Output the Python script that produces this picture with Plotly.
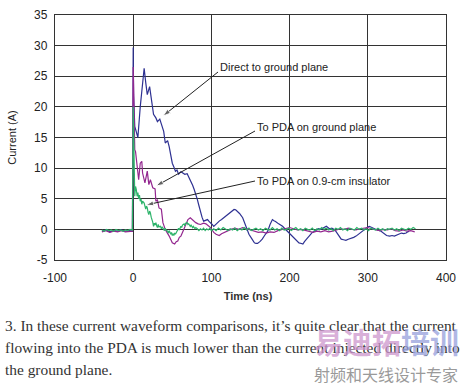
import plotly.graph_objects as go

# ---------------- data ----------------
direct_t = [-40, -35, -30, -25, -20, -15, -10, -5, -1, 0, 0.5, 2, 4, 6, 9, 12, 14, 16, 18, 21, 24, 26, 29, 31,
            34, 37, 39, 41, 44, 46, 48, 50, 52, 54, 56, 58, 61, 63, 66, 69, 71, 73, 76, 78, 80, 82, 84, 86, 88,
            90, 93, 95, 97, 99, 101, 103, 106, 110, 113, 116, 120, 123, 126, 129, 131, 133, 136, 140, 142, 144,
            146, 148, 152, 155, 157, 159, 162, 165, 168, 172, 175, 178, 180, 182, 186, 191, 194, 197, 200, 204,
            208, 212, 215, 217, 219, 221, 223, 225, 227, 229, 232, 234, 237, 240, 243, 247, 249, 251, 254, 257,
            259, 262, 264, 266, 269, 272, 275, 279, 282, 285, 288, 291, 294, 298, 300, 302, 305, 308, 312, 317,
            319, 321, 324, 328, 331, 334, 336, 339, 343, 346, 349, 351, 353]
direct_i = [-0.3, -0.1, -0.4, -0.2, -0.3, -0.1, -0.3, -0.2, -0.3, 29.7, 22, 16.8, 16, 15, 20, 24.5, 26.3, 24, 22,
            23.3, 21, 18.8, 18.2, 17.6, 18, 17, 16, 14.1, 14.5, 13.5, 12.2, 10.8, 10.2, 9.5, 9.7, 9, 9.4, 9.2, 9.0,
            9.1, 8.6, 8.1, 7.2, 6.5, 5.8, 4.9, 3.9, 2.7, 2.0, 1.35, 1.5, 1.6, 1.3, 1.1, 0.8, 0.5, 0.9, 1.35, 1.6,
            1.9, 2.3, 2.7, 3.0, 3.25, 3.2, 3.0, 2.6, 1.9, 1.2, 0.3, -0.3, -0.8, -1.6, -2.2, -2.3, -2.3, -2.0, -1.6,
            -1.0, -0.3, 0.8, 1.6, 1.4, 1.3, 0.9, 0.5, 0.1, -0.3, -0.6, -1.1, -1.7, -2.2, -2.3, -2.4, -2.0, -1.6,
            -1.4, -1.1, -0.8, -0.5, -0.3, -0.1, 0.1, 0.0, 0.2, 0.5, 0.3, 0.1, 0.2, 0.0, -0.3, -0.8, -1.2, -1.6,
            -1.7, -1.8, -1.6, -1.5, -1.3, -1.1, -0.8, -0.5, -0.1, 0.3, 0.4, 0.5, 0.3, 0.1, -0.1, -0.3, -0.5, -0.8,
            -1.0, -1.1, -1.0, -1.1, -1.0, -0.8, -0.6, -0.7, -0.6, -0.4, -0.3]

pda_gp_t = [-40, -35, -30, -25, -20, -15, -10, -5, -1, 0, 1, 2, 3, 5, 7, 9, 11, 12, 15, 18, 20, 22, 25, 28, 29,
            31, 33, 36, 38, 41, 43, 46, 50, 53, 55, 57, 59, 61, 63, 66, 68, 70, 73, 76, 80, 83, 86, 90, 93, 96,
            99, 101, 103, 106, 110, 113, 116, 120, 125, 130, 135, 140, 145, 150, 155, 160, 165, 170, 175, 180,
            185, 190, 195, 200, 205, 210, 215, 220, 225, 230, 235, 240, 245, 250, 255, 260, 265, 270, 275, 280,
            285, 290, 295, 300, 305, 310, 315, 320, 325, 330, 335, 340, 345, 350, 355, 360]
pda_gp_i = [-0.4, -0.2, -0.5, -0.3, -0.4, -0.2, -0.4, -0.3, -0.3, 26.5, 18, 13, 12.7, 10.3, 8.1, 10.8, 11.1, 9.2,
            7.6, 9.5, 7.3, 8.1, 6.8, 6.6, 4.6, 4.8, 3.5, 3.3, 1.1, 0.0, -0.4, -1.1, -2.2, -2.4, -2.0, -1.9, -1.3,
            -1.1, -0.5, 0.3, 1.0, 1.6, 1.9, 1.5, 1.1, 0.9, 0.8, 1.0, 0.9, 0.6, 0.3, -0.1, -0.5, -0.8, -1.0, -0.7,
            -0.5, -0.3, 0.0, 0.2, 0.0, 0.3, 0.1, -0.2, -0.4, -0.5, -0.4, -0.6, -0.4, -0.5, -0.2, 0.0, 0.2, 0.3,
            0.1, -0.1, 0.0, -0.2, -0.3, -0.5, -0.3, -0.4, -0.2, -0.4, -0.3, -0.1, 0.1, 0.0, 0.2, 0.0, -0.1, 0.1,
            0.2, 0.3, 0.1, 0.0, -0.2, 0.0, -0.1, 0.1, -0.2, -0.3, -0.1, -0.3, -0.2, -0.4]

pda_ins_t = [-40, -37, -34, -31, -28, -25, -22, -19, -16, -13, -10, -7, -4, -1, 0, 1, 2, 3, 4, 5, 6, 7, 8, 9, 10,
             11, 12, 14, 15, 16, 17, 18, 19, 20, 21, 22, 23, 24, 25, 26, 27, 28, 29, 30, 31, 32, 33, 35, 36, 37,
             39, 40, 41, 42, 44, 45, 46, 48, 49, 50, 51, 52, 53, 54, 56, 57, 58, 59, 61, 62, 63, 65, 66, 67, 69,
             70, 71, 73, 74, 76, 77, 79, 80, 82, 84, 86, 88, 90, 92, 94, 96, 98, 100, 103, 106, 109, 112, 115,
             118, 121, 124, 127, 130, 133, 136, 139, 142, 145, 148, 151, 154, 157, 160, 163, 166, 169, 172, 175,
             178, 181, 184, 187, 190, 193, 196, 199, 202, 205, 208, 211, 214, 217, 220, 223, 226, 229, 232, 235,
             238, 241, 244, 247, 250, 253, 256, 259, 262, 265, 268, 271, 274, 277, 280, 283, 286, 289, 292, 295,
             298, 301, 304, 307, 310, 313, 316, 319, 322, 325, 328, 331, 334, 337, 340, 343, 346, 349, 352, 355,
             358, 361]
pda_ins_i = [-0.1, -0.3, 0.0, -0.2, -0.1, -0.3, 0.0, -0.2, -0.1, -0.3, -0.1, -0.2, 0.0, -0.1, 20, 10.8, 5.4, 7.0,
             6.5, 5.4, 6.0, 5.0, 5.6, 4.6, 5.0, 4.1, 4.6, 4.3, 3.6, 3.3, 3.8, 3.5, 2.8, 2.4, 3.0, 2.7, 2.0, 1.7,
             1.2, 0.5, 1.0, 0.7, 1.1, 0.6, 0.3, 0.8, 0.4, 0.5, 0.1, 0.4, 0.1, -0.2, 0.2, -0.1, -0.3, -0.6, -0.2,
             -0.8, -0.5, -1.0, -0.7, -1.0, -0.6, -0.8, -0.3, -0.1, 0.2, -0.1, 0.5, 0.3, 0.7, 0.9, 0.6, 1.0, 1.1,
             0.8, 0.9, 0.5, 0.7, 0.3, 0.5, 0.1, 0.3, 0.1, -0.2, 0.1, -0.1, 0.2, -0.2, 0.1, -0.1, 0.2, -0.2, 0.1,
             -0.2, 0.2, -0.1, 0.3, 0.0, -0.2, 0.1, -0.1, 0.2, -0.2, 0.1, -0.1, 0.3, -0.1, 0.2, -0.2, 0.0, 0.2,
             -0.1, 0.1, -0.2, 0.2, 0.0, -0.1, 0.3, -0.1, 0.1, -0.2, 0.2, -0.1, 0.0, 0.2, -0.2, 0.1, 0.3, -0.1,
             0.1, -0.2, 0.2, 0.0, -0.1, 0.2, -0.2, 0.1, -0.1, 0.3, 0.0, 0.2, -0.1, 0.1, -0.2, 0.2, 0.0, 0.3, -0.1,
             0.1, -0.2, 0.2, 0.1, -0.1, 0.3, 0.0, 0.2, -0.1, 0.1, -0.2, 0.2, 0.0, -0.1, 0.2, -0.1, 0.1, -0.2,
             0.1, 0.0, 0.2, -0.1, 0.1, -0.2, 0.2, 0.0, -0.1, 0.2, 0.0, 0.3, 0.1]

x_ticks = [-100, 0, 100, 200, 300, 400]
x_tick_text = ["-100", "0", "100", "200", "300", "400"]
y_ticks = [-5, 0, 5, 10, 15, 20, 25, 30, 35]
y_tick_text = ["-5", "0", "5", "10", "15", "20", "25", "30", "35"]

labels = ["Direct to ground plane", "To PDA on ground plane", "To PDA on 0.9-cm insulator"]
caption_lines = [
    "3. In these current waveform comparisons, it\u2019s quite clear that the current",
    "flowing into the PDA is much lower than the current injected directly into",
    "the ground plane.",
]
x_title = "Time (ns)"
y_title = "Current (A)"
watermark_a = "易迪拓"
watermark_b = "培训"
watermark_sub = "射频和天线设计专家"

# ---------------- figure ----------------
BLUE = "#2e3192"
MAGENTA = "#93278f"
GREEN = "#2db36a"
GRID = "#333333"
INK = "#222222"
SANS = "Liberation Sans, Arial, sans-serif"
SERIF = "Liberation Serif, Times New Roman, serif"
CJK = "Noto Sans CJK SC"

W, H = 470, 385
PL, PR, PT, PB = 55, 446, 15, 260          # plot-area box in pixels
X0, X1, Y0, Y1 = -100, 400, -5, 35


def px2data(px, py):
    """Pixel position of the picture -> data coordinates of the main axes."""
    return X0 + (px - PL) / (PR - PL) * (X1 - X0), Y0 + (PB - py) / (PB - PT) * (Y1 - Y0)


fig = go.Figure()
fig.add_trace(go.Scatter(x=direct_t, y=direct_i, mode="lines", line=dict(color=BLUE, width=1.2),
                         name=labels[0]))
fig.add_trace(go.Scatter(x=pda_gp_t, y=pda_gp_i, mode="lines", line=dict(color=MAGENTA, width=1.2),
                         name=labels[1]))
fig.add_trace(go.Scatter(x=pda_ins_t, y=pda_ins_i, mode="lines", line=dict(color=GREEN, width=1.2),
                         name=labels[2]))

# callout arrows: line with an arrow marker at the head
arrow_px = [((218, 72), (163, 116)),
            ((255, 131), (156, 186)),
            ((255, 181), (146, 205))]
for (tx, ty), (hx, hy) in arrow_px:
    a = px2data(tx, ty)
    b = px2data(hx, hy)
    fig.add_trace(go.Scatter(x=[a[0], b[0]], y=[a[1], b[1]], mode="lines+markers",
                             line=dict(color=INK, width=1),
                             marker=dict(symbol="arrow", size=[0, 8], color=INK, angleref="previous"),
                             hoverinfo="skip", showlegend=False))

label_px = [(220, 68.5), (257, 128), (257, 182)]
for txt, (lx, ly) in zip(labels, label_px):
    x, y = px2data(lx, ly)
    fig.add_trace(go.Scatter(x=[x], y=[y], mode="text", text=[txt], textposition="middle right",
                             textfont=dict(size=11, color=INK, family=SANS),
                             cliponaxis=False, hoverinfo="skip", showlegend=False))


# full-figure overlay axes (pixel units) for the texts outside the plot area
def add_page_text(txt, px, py, size, color, family, pos="middle right"):
    fig.add_trace(go.Scatter(x=[px], y=[py], mode="text", text=[txt], textposition=pos,
                             textfont=dict(size=size, color=color, family=family),
                             xaxis="x2", yaxis="y2",
                             cliponaxis=False, hoverinfo="skip", showlegend=False))


add_page_text("<b>" + x_title + "</b>", 248, 297, 11, "#333333", SANS, pos="middle center")
for i, line in enumerate(caption_lines):
    add_page_text(line, 5, 327 + i * 22, 15.4, "#333333", SERIF)
add_page_text("<b>" + watermark_a + "</b>", 314, 347, 29, "rgba(205,150,205,0.75)", CJK)
add_page_text("<b>" + watermark_b + "</b>", 401, 347, 29, "rgba(150,160,220,0.75)", CJK)
add_page_text(watermark_sub, 314, 377, 16, "#9a9a9a", CJK)

fig.update_layout(
    width=W, height=H,
    margin=dict(l=0, r=0, t=0, b=0, pad=0, autoexpand=False),
    paper_bgcolor="white", plot_bgcolor="rgba(0,0,0,0)",
    showlegend=False,
    font=dict(family=SANS, size=12, color=INK),
    xaxis=dict(domain=[PL / W, PR / W], anchor="y", range=[X0, X1],
               tickvals=x_ticks, ticktext=x_tick_text,
               showgrid=True, gridcolor=GRID, gridwidth=1.3, zeroline=False,
               showline=True, linecolor=GRID, linewidth=1.3, mirror=True, ticks="",
               automargin=False, ticklabelstandoff=6, tickfont=dict(size=12, color=INK)),
    yaxis=dict(domain=[(H - PB) / H, (H - PT) / H], anchor="x", range=[Y0, Y1],
               tickvals=y_ticks, ticktext=y_tick_text,
               showgrid=True, gridcolor=GRID, gridwidth=1.3, zeroline=False,
               showline=True, linecolor=GRID, linewidth=1.3, mirror=True, ticks="",
               automargin=False, ticklabelstandoff=4, tickfont=dict(size=12, color=INK),
               title=dict(text=y_title, font=dict(size=11, color=INK, family=SANS))),
    xaxis2=dict(domain=[0, 1], anchor="y2", range=[0, W], visible=False, fixedrange=True),
    yaxis2=dict(domain=[0, 1], anchor="x2", range=[H, 0], visible=False, fixedrange=True),
)

fig.write_html("out.html", config={"displayModeBar": False},
               post_script="document.body.style.margin='0';")
